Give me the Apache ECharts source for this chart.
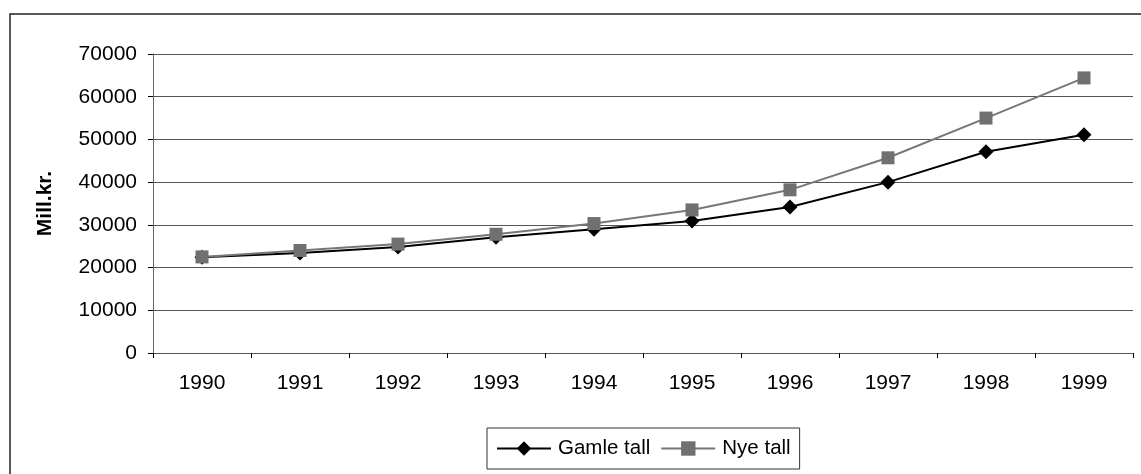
<!DOCTYPE html>
<html>
<head>
<meta charset="utf-8">
<script src="https://cdn.jsdelivr.net/npm/echarts@6/dist/echarts.min.js"></script>
<style>
html,body{margin:0;padding:0;background:#fff;}
#chart{width:1141px;height:474px;}
</style>
</head>
<body>
<div id="chart"></div>
<script>
const categories = ['1990','1991','1992','1993','1994','1995','1996','1997','1998','1999'];
const gamleTall = [22400, 23400, 24800, 27100, 29000, 30900, 34200, 40000, 47100, 51100];
const nyeTall = [22500, 24000, 25500, 27800, 30300, 33500, 38200, 45700, 55000, 64400];
const seriesNames = ['Gamle tall', 'Nye tall'];
const yAxisTitle = 'Mill.kr.';

const FONT = '"Liberation Sans", Arial, sans-serif';
const chart = echarts.init(document.getElementById('chart'), null, {renderer: 'canvas'});
chart.setOption({
  backgroundColor: '#fff',
  animation: false,
  graphic: [{
    type: 'rect',
    shape: {x: 10, y: 14, width: 1160, height: 500},
    style: {fill: 'none', stroke: '#222', lineWidth: 1.5},
    silent: true
  }],
  grid: {left: 153, right: 8, top: 54, bottom: 121, containLabel: false},
  legend: {
    left: 487, top: 428,
    padding: [10, 9, 10, 9],
    borderColor: '#333', borderWidth: 1,
    itemWidth: 54, itemHeight: 18,
    itemGap: 10,
    textStyle: {fontFamily: FONT, fontSize: 20.5, color: '#000', padding: [0, 0, 0, 2]},
    data: seriesNames
  },
  xAxis: {
    type: 'category',
    data: categories,
    boundaryGap: true,
    axisLine: {show: true, lineStyle: {color: '#555', width: 1}},
    axisTick: {show: true, length: 5, inside: false, alignWithLabel: false, lineStyle: {color: '#000'}},
    axisLabel: {fontFamily: FONT, fontSize: 21, color: '#000', margin: 20},
    splitLine: {show: false}
  },
  yAxis: {
    type: 'value',
    min: 0, max: 70000, interval: 10000,
    name: yAxisTitle,
    nameLocation: 'middle',
    nameGap: 97,
    nameRotate: 90,
    nameTextStyle: {fontFamily: FONT, fontSize: 21, fontWeight: 'bold', color: '#000'},
    axisLine: {show: true, lineStyle: {color: '#666', width: 1}},
    axisTick: {show: true, length: 5, lineStyle: {color: '#000'}},
    axisLabel: {fontFamily: FONT, fontSize: 21, color: '#000', margin: 16, formatter: (v) => String(v)},
    splitLine: {show: true, lineStyle: {color: '#555', width: 1}}
  },
  series: [
    {
      name: seriesNames[0], type: 'line', data: gamleTall,
      symbol: 'diamond', symbolSize: [15, 15],
      lineStyle: {color: '#000', width: 2},
      itemStyle: {color: '#000'},
      z: 2
    },
    {
      name: seriesNames[1], type: 'line', data: nyeTall,
      symbol: 'rect', symbolSize: 13,
      lineStyle: {color: '#777', width: 2},
      itemStyle: {color: '#707070'},
      z: 3
    }
  ]
});
</script>
</body>
</html>
